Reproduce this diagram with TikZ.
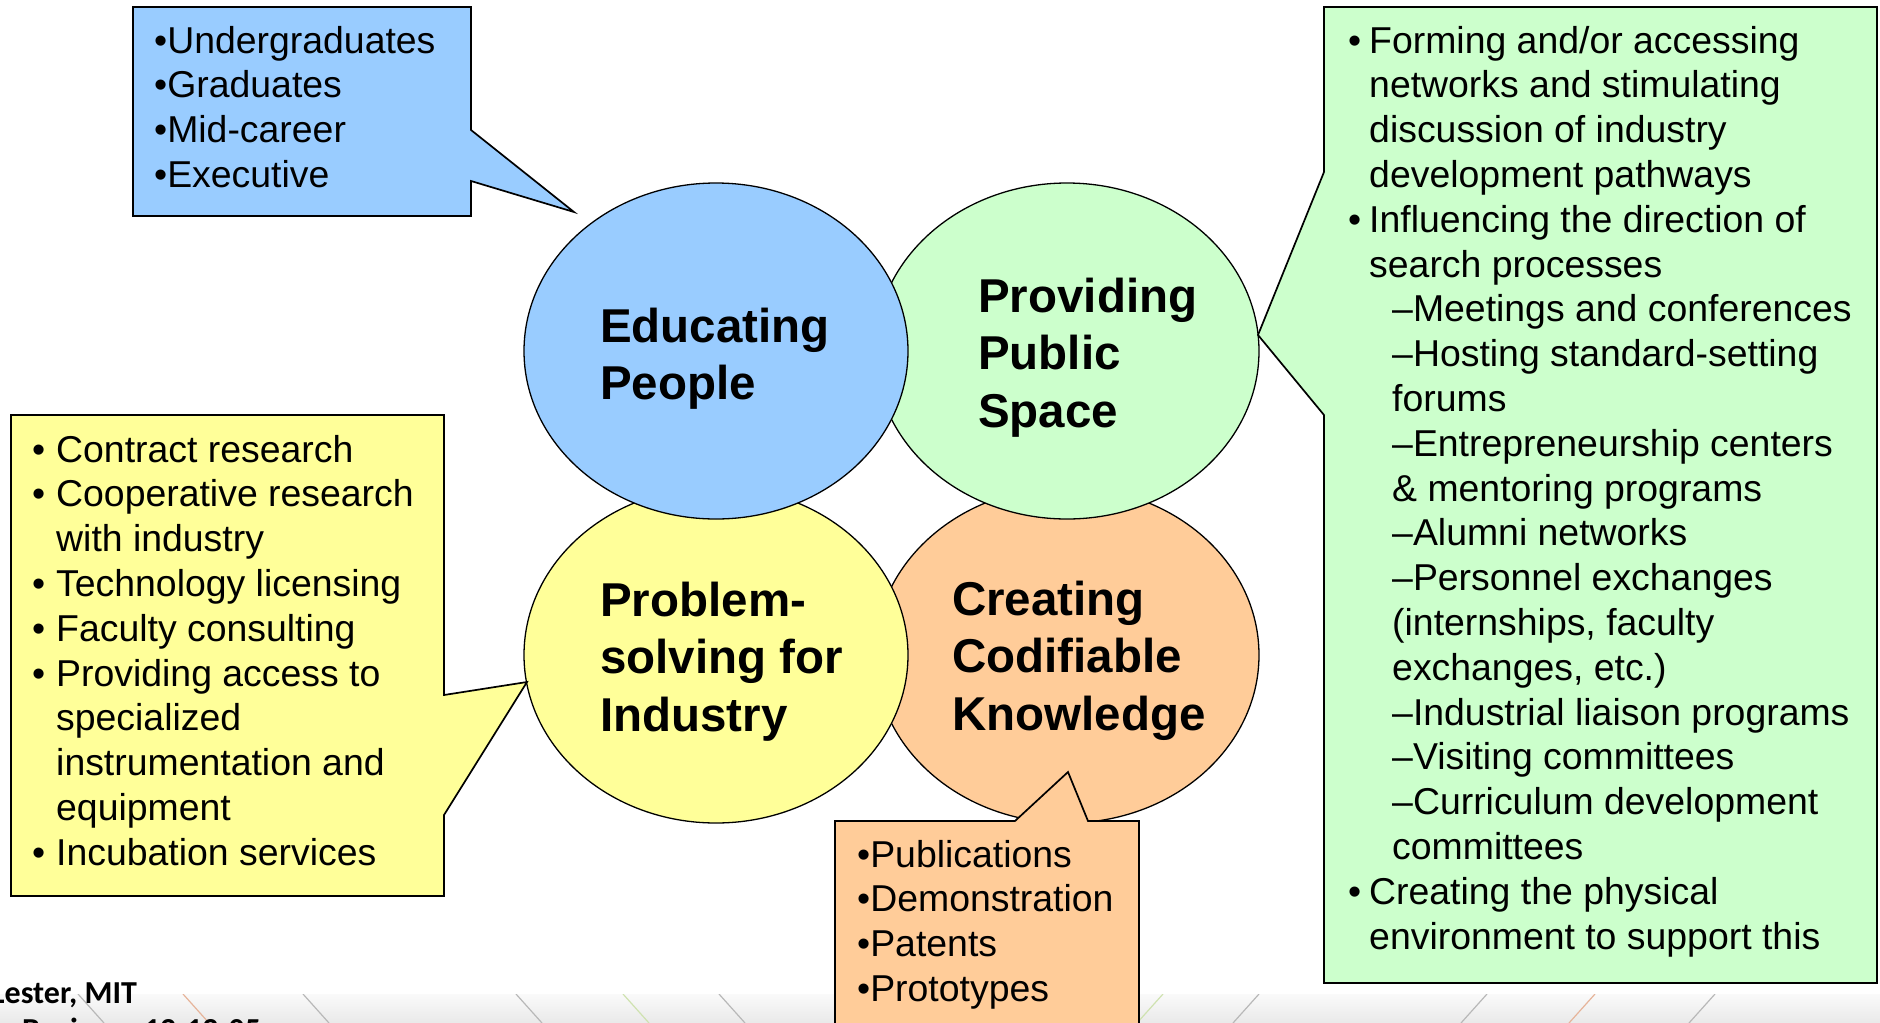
\documentclass[tikz,border=0pt]{standalone}
\usepackage{fontspec}
\setmainfont{Liberation Sans}
\newfontfamily\calibrifont{Carlito}
\usetikzlibrary{shapes.geometric}
\definecolor{bluefill}{HTML}{99CCFF}
\definecolor{greenfill}{HTML}{CCFFCC}
\definecolor{yellowfill}{HTML}{FFFF99}
\definecolor{orangefill}{HTML}{FFCC99}
\definecolor{bandtop}{HTML}{FAFAFA}
\definecolor{bandbot}{HTML}{E9E9E9}
\definecolor{lgray}{HTML}{B8B8B8}
\definecolor{lorange}{HTML}{E6B49A}
\definecolor{lgreen}{HTML}{CFE2B0}
\newcommand\bulfont{\fontsize{37.4}{44.8}\selectfont}
\newcommand\ybul{\makebox[24pt][l]{•}}
\newcommand\yind{\hspace*{24pt}}
\newcommand\gbul{\makebox[21pt][l]{•}}
\newcommand\gind{\hspace*{21pt}}
\newcommand\gsub{\hspace*{44pt}}
\begin{document}
\begin{tikzpicture}[x=1pt,y=-1pt,
  bubble/.style={ellipse, draw=black, line width=1.3pt, minimum width=384pt, minimum height=336pt, inner sep=0pt},
  callout/.style={draw=black, line width=1.7pt, line join=miter},
  bigtext/.style={anchor=base west, align=left, inner sep=0pt, font=\bfseries\fontsize{47.5}{57.5}\selectfont},
  listtext/.style={anchor=base west, align=left, inner sep=0pt, font=\bulfont},
  bandline/.style={line width=1.2pt}
]
\useasboundingbox (0,0) rectangle (1880,1023);
\clip (0,0) rectangle (1880,1023);
\fill[white] (0,0) rectangle (1880,1023);
% bottom band
\shade[top color=bandtop, bottom color=bandbot] (0,994) rectangle (1880,1023);
\begin{scope}
\clip (0,994) rectangle (1880,1023);
\foreach \x/\c in {78/lgray,183/lorange,303/lgray,516/lgray,623/lgreen,719/lgray}
  \draw[bandline,\c] (\x,994) -- ++(26,29);
\foreach \x/\c in {1163/lgreen,1259/lgray,1487/lgray,1595/lorange,1715/lgray}
  \draw[bandline,\c] (\x,994) -- ++(-26,29);
\end{scope}
% ellipses
\node[bubble, fill=orangefill] (cre) at (1067,655) {};
\node[bubble, fill=yellowfill] (pro) at (716,655) {};
\node[bubble, fill=greenfill] (pub) at (1067,351) {};
\node[bubble, fill=bluefill] (edu) at (716,351) {};
% callouts
\draw[callout, fill=bluefill] (133,7) -- (471,7) -- (471,130) -- (574,212) -- (471,181) -- (471,216) -- (133,216) -- cycle;
\draw[callout, fill=yellowfill] (11,415) -- (444,415) -- (444,695) -- (527,682) -- (444,815) -- (444,896) -- (11,896) -- cycle;
\draw[callout, fill=orangefill] (835,821) -- (1015,821) -- (1068,772) -- (1088,821) -- (1139,821) -- (1139,1040) -- (835,1040) -- cycle;
\draw[callout, fill=greenfill] (1324,7) -- (1877,7) -- (1877,983) -- (1324,983) -- (1324,415) -- (1258,335) -- (1324,172) -- cycle;
% ellipse labels (anchor = baseline of last line)
\node[bigtext] (eduL) at (600,399.5) {Educating\\People};
\node[bigtext] (pubL) at (978,427) {Providing\\Public\\Space};
\node[bigtext] (proL) at (600,731) {Problem-\\solving for\\Industry};
\node[bigtext] (creL) at (952,730) {Creating\\Codifiable\\Knowledge};
% callout texts (anchor = baseline of last line)
\node[listtext] (eduT) at (154,187.4) {•Undergraduates\\•Graduates\\•Mid-career\\•Executive};
\node[listtext] (proT) at (32,865.2) {\ybul Contract research\\\ybul Cooperative research\\\yind with industry\\\ybul Technology licensing\\\ybul Faculty consulting\\\ybul Providing access to\\\yind specialized\\\yind instrumentation and\\\yind equipment\\\ybul Incubation services};
\node[listtext] (creT) at (857,1001.4) {•Publications\\•Demonstration\\•Patents\\•Prototypes};
\node[listtext] (pubT) at (1348,949) {\gbul Forming and/or accessing\\\gind networks and stimulating\\\gind discussion of industry\\\gind development pathways\\\gbul Influencing the direction of\\\gind search processes\\\gsub –Meetings and conferences\\\gsub –Hosting standard-setting\\\gsub forums\\\gsub –Entrepreneurship centers\\\gsub \& mentoring programs\\\gsub –Alumni networks\\\gsub –Personnel exchanges\\\gsub (internships, faculty\\\gsub exchanges, etc.)\\\gsub –Industrial liaison programs\\\gsub –Visiting committees\\\gsub –Curriculum development\\\gsub committees\\\gbul Creating the physical\\\gind environment to support this};
% footer
\node[anchor=base west, inner sep=0pt, font=\calibrifont\bfseries\fontsize{32}{38}\selectfont] (auth) at (-9,1003) {Lester, MIT};
\node[anchor=base west, inner sep=0pt, font=\calibrifont\bfseries\fontsize{32}{38}\selectfont] (date) at (22,1040) {Business 12-12-05};
\end{tikzpicture}
\end{document}
